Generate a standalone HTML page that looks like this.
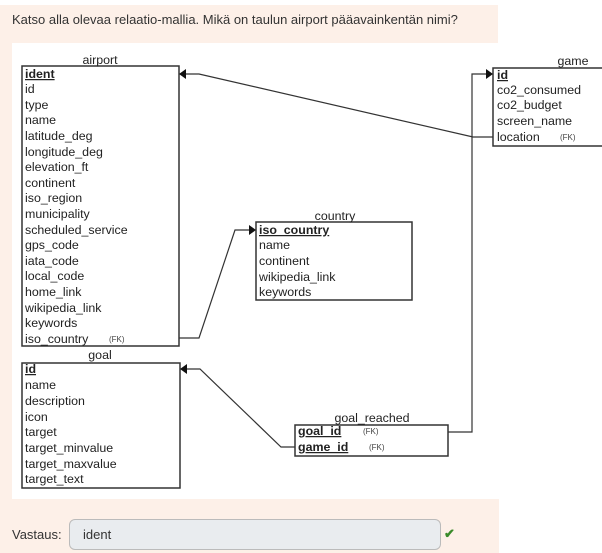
<!DOCTYPE html>
<html><head><meta charset="utf-8"><style>
body{margin:0;width:602px;height:553px;background:#fff;position:relative;overflow:hidden;font-family:"Liberation Sans",sans-serif}
.p{position:absolute;background:#fdf0e8}
</style></head><body>
<div class="p" style="left:0;top:5px;width:498px;height:38px"></div>
<div class="p" style="left:0;top:43px;width:12px;height:460px"></div>
<div class="p" style="left:0;top:499px;width:499px;height:54px"></div>
<div style="position:absolute;left:12px;top:12px;font-size:13px;color:#333">Katso alla olevaa relaatio-mallia. Mikä on taulun airport pääavainkentän nimi?</div>
<svg style="position:absolute;left:0;top:0" width="602" height="553" font-family="Liberation Sans, Arial, sans-serif" font-size="12.4" fill="#222">
<g fill="none" stroke="#333" stroke-width="1.5">
<rect x="22" y="66" width="157" height="280"/>
<rect x="22" y="363" width="158" height="125"/>
<rect x="256" y="222" width="156" height="78"/>
<rect x="295" y="425" width="153" height="31"/>
<rect x="493" y="68" width="120" height="78"/>
<polyline stroke-width="1.2" points="493,137 473,137 199,74 184,74"/>
<polyline stroke-width="1.2" points="448,432 472,432 472,74 488,74"/>
<polyline stroke-width="1.2" points="179,338 199,338 235,230 251,230"/>
<polyline stroke-width="1.2" points="295,447 281,447 200,369 184,369"/>
</g>
<g fill="#111">
<polygon points="179,74 186,69 186,79"/>
<polygon points="493,74 486,69 486,79"/>
<polygon points="256,230 249,225 249,235"/>
<polygon points="180,369 187,364 187,374"/>
</g>
<g text-anchor="middle">
<text x="100" y="64">airport</text><text x="100" y="359">goal</text>
<text x="335" y="220">country</text><text x="372" y="422">goal_reached</text>
<text x="573" y="65">game</text>
</g>
<g font-weight="bold" text-decoration="underline">
<text x="25" y="78">ident</text><text x="25" y="373">id</text>
<text x="259" y="234">iso_country</text><text x="497" y="79">id</text>
<text x="298" y="435">goal_id</text><text x="298" y="451">game_id</text>
</g>
<g>
<text x="25" y="93">id</text><text x="25" y="109">type</text><text x="25" y="124">name</text>
<text x="25" y="140">latitude_deg</text><text x="25" y="156">longitude_deg</text><text x="25" y="171">elevation_ft</text>
<text x="25" y="187">continent</text><text x="25" y="202">iso_region</text><text x="25" y="218">municipality</text>
<text x="25" y="234">scheduled_service</text><text x="25" y="249">gps_code</text><text x="25" y="265">iata_code</text>
<text x="25" y="280">local_code</text><text x="25" y="296">home_link</text><text x="25" y="312">wikipedia_link</text>
<text x="25" y="327">keywords</text><text x="25" y="343">iso_country</text>
<text x="25" y="389">name</text><text x="25" y="405">description</text><text x="25" y="421">icon</text>
<text x="25" y="436">target</text><text x="25" y="452">target_minvalue</text><text x="25" y="468">target_maxvalue</text><text x="25" y="483">target_text</text>
<text x="259" y="249">name</text><text x="259" y="265">continent</text><text x="259" y="281">wikipedia_link</text><text x="259" y="296">keywords</text>
<text x="497" y="94">co2_consumed</text><text x="497" y="109">co2_budget</text><text x="497" y="125">screen_name</text><text x="497" y="141">location</text>
</g>
<g font-size="8" fill="#444">
<text x="109" y="342">(FK)</text><text x="560" y="140">(FK)</text>
<text x="363" y="434">(FK)</text><text x="369" y="450">(FK)</text>
</g>
</svg>
<div style="position:absolute;left:12px;top:527px;font-size:13px;color:#333">Vastaus:</div>
<div style="position:absolute;left:69px;top:519px;width:372px;height:31px;box-sizing:border-box;background:#e9ecef;border:1px solid #bbb;border-radius:6px;font-size:13px;color:#333;padding:7px 0 0 13px">ident</div>
<div style="position:absolute;left:444px;top:526px;color:#3a8a2a;font-size:13px;font-weight:bold">✔</div>
</body></html>
